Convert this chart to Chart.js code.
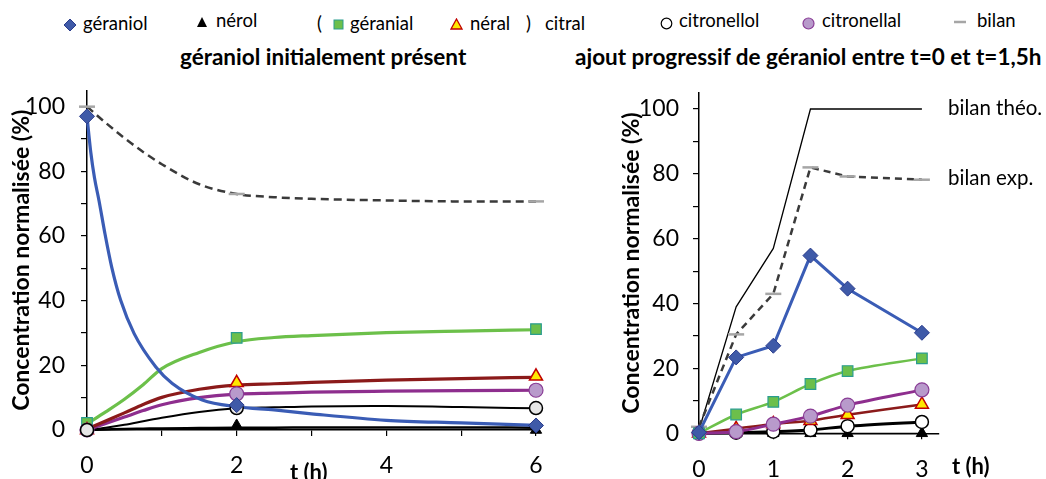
<!DOCTYPE html>
<html>
<head>
<meta charset="utf-8">
<script src="https://cdn.jsdelivr.net/npm/chart.js@4.4.1/dist/chart.umd.min.js"></script>
<style>
  body { margin: 0; width: 1046px; height: 479px; background: #fff; position: relative; overflow: hidden;
         font-family: Lato, "Open Sans", sans-serif; color: #000; }
  .t { position: absolute; white-space: nowrap; line-height: 1; }
  .lg { font-size: 18.5px; }
  .an { font-size: 20.5px; }
  .ti { font-size: 22.5px; font-weight: bold; }
  .ax { font-size: 22px; font-weight: bold; }
  .mk { position: absolute; }
  canvas { position: absolute; top: 80px; }
  #left { left: 0; }
  #right { left: 590px; }
</style>
</head>
<body>
<!-- légende -->
<svg class="mk" style="left:63px;top:18px" width="14" height="14"><polygon points="7,1 13,7 7,13 1,7" fill="#3F5AA8" stroke="#2A3C8C"/></svg>
<div class="t lg" style="left:83px;top:14px">géraniol</div>
<svg class="mk" style="left:196px;top:16px" width="12" height="12"><polygon points="6,1 11,11 1,11" fill="#000"/></svg>
<div class="t lg" style="left:216px;top:11px">nérol</div>
<div class="t lg" style="left:317px;top:14px">(</div>
<svg class="mk" style="left:333px;top:19px" width="11" height="11"><rect x="1" y="1" width="9" height="9" fill="#6CBF4B" stroke="#2A9D8F"/></svg>
<div class="t lg" style="left:350px;top:14px">géranial</div>
<svg class="mk" style="left:450px;top:18px" width="13" height="12"><polygon points="6.5,1 12,11 1,11" fill="#FFE800" stroke="#C00000" stroke-width="1.3"/></svg>
<div class="t lg" style="left:470px;top:14px">néral</div>
<div class="t lg" style="left:526px;top:14px">)</div>
<div class="t lg" style="left:545px;top:14px">citral</div>
<svg class="mk" style="left:660px;top:17px" width="13" height="13"><circle cx="6.5" cy="6.5" r="5.3" fill="#fff" stroke="#000" stroke-width="1.2"/></svg>
<div class="t lg" style="left:679px;top:11px">citronellol</div>
<svg class="mk" style="left:802px;top:17px" width="13" height="13"><circle cx="6.5" cy="6.5" r="5.5" fill="#B89ACB" stroke="#8A3D96" stroke-width="1.2"/></svg>
<div class="t lg" style="left:822px;top:11px">citronellal</div>
<svg class="mk" style="left:953px;top:17px" width="14" height="10"><line x1="1" y1="5" x2="13" y2="5" stroke="#A6A6A6" stroke-width="2.5"/></svg>
<div class="t lg" style="left:977px;top:11px">bilan</div>

<div class="t ti" style="left:180px;top:46px">géraniol initialement présent</div>
<div class="t ti" style="left:575px;top:46px">ajout progressif de géraniol entre t=0 et t=1,5h</div>

<canvas id="left" width="560" height="399"></canvas>
<canvas id="right" width="456" height="399"></canvas>

<div class="t ax" style="left:290px;top:461px">t (h)</div>
<div class="t ax" style="left:952px;top:455px">t (h)</div>
<div class="t an" style="left:948px;top:97px">bilan théo.</div>
<div class="t an" style="left:948px;top:167px">bilan exp.</div>

<script>
// ---- géraniol initialement présent (points mesurés) ----
const tLeft = [0, 2, 6];
const geraniolLeft = [97, 7.7, 1.4];
const nerolLeft = [0, 1.4, 0];
const geranialLeft = [2.2, 28.5, 31.2];
const neralLeft = [0, 14.6, 16.6];
const citronellolLeft = [0, 6.8, 6.8];
const citronellalLeft = [0, 11.2, 12.3];
const bilanLeft = [100, 73, 70.7];

// courbes du modèle
const tFitGeraniol = [0, 0.05, 0.1, 0.16, 0.24, 0.33, 0.45, 0.63, 0.92, 1.14, 1.54, 2, 2.5, 3, 4, 5, 6];
const geraniolFit = [97, 86, 78, 71, 60.7, 50.4, 40.1, 29.8, 19.5, 14.4, 9.3, 7.2, 6.2, 5.0, 3.0, 2.2, 1.4];
const tFit = [0, 0.25, 0.5, 0.75, 1, 1.5, 2, 2.5, 3, 4, 5, 6];
const nerolFit = [0, 0.15, 0.3, 0.4, 0.5, 0.6, 0.7, 0.7, 0.8, 0.8, 0.8, 0.7];
const geranialFit = [1.9, 5.6, 9.5, 14, 19, 24, 27.3, 28.6, 29.2, 30.1, 30.6, 31];
const neralFit = [0.3, 2.8, 5.3, 7.9, 10.1, 12.6, 13.9, 14.3, 14.7, 15.4, 15.9, 16.3];
const citronellalFit = [0, 2, 4.0, 6.0, 7.8, 10.0, 11.1, 11.4, 11.7, 12.0, 12.2, 12.3];
const citronellolFit = [0, 0.7, 1.6, 2.7, 3.8, 5.6, 6.7, 7.0, 7.3, 7.4, 7.1, 6.7];
const bilanFit = [100, 95, 90.3, 86, 82.2, 76, 73, 72, 71.5, 71, 70.7, 70.7];

// ---- ajout progressif de géraniol ----
const tRight = [0, 0.5, 1, 1.5, 2, 3];
const geraniolRight = [0.3, 23.4, 27, 54.8, 44.6, 31];
const nerolRight = [0, 0, 0, 0, 0, 0];
const geranialRight = [0, 5.8, 9.7, 15.2, 19.2, 23.1];
const neralRight = [0, 1.4, 2.9, 3.9, 5.7, 8.9];
const citronellolRight = [0, 0.2, 0.5, 1.0, 2.2, 3.5];
const citronellalRight = [0, 0.5, 2.8, 5.3, 8.7, 13.4];
const bilanTheo = [1, 39, 57, 100, 100, 100];
const bilanExp = [2, 30.5, 43, 82, 79.2, 78.2];

const yTicks = [0, 10, 20, 30, 40, 50, 60, 70, 80, 90, 100];
const xTicksLeft = [0, 1, 2, 3, 4, 5, 6];
const xLabelsLeft = [0, 2, 4, 6];
const xTicksRight = [0, 1, 2, 3];

const pts = (xs, ys) => xs.map((x, i) => ({ x: x, y: ys[i] }));

const blue = '#3A5CB5', green = '#6CC04A', red = '#8B1A1A', purple = '#8E2E8E';

function marks(xs, ys, style, radius, bg, border, bw) {
  return { data: pts(xs, ys), showLine: false, pointStyle: style, pointRadius: radius,
           pointBackgroundColor: bg, pointBorderColor: border, pointBorderWidth: bw, clip: false };
}
function fit(xs, ys, color, width, dash) {
  return { data: pts(xs, ys), borderColor: color, borderWidth: width, borderDash: dash || [],
           pointRadius: 0, cubicInterpolationMode: 'monotone', clip: false };
}

function noPad(s) {
  s.paddingTop = 0; s.paddingBottom = 0; s.paddingLeft = 0; s.paddingRight = 0;
}

function axes(xmax, xticks, xlabels, yWidth, titlePad, xHeight, yPad) {
  const tickFont = { family: 'Lato', size: 23 };
  return {
    x: {
      type: 'linear', min: 0, max: xmax,
      afterBuildTicks: s => { s.ticks = xticks.map(v => ({ value: v })); },
      afterFit: s => { s.height = xHeight; noPad(s); },
      ticks: { color: '#000', font: tickFont, padding: 16, maxRotation: 0,
               callback: v => xlabels.includes(v) ? String(v) : '' },
      grid: { drawOnChartArea: false, tickLength: 6, color: '#000', lineWidth: 1.2 },
      border: { color: '#000', width: 1.5 }
    },
    y: {
      min: 0, max: 105,
      afterBuildTicks: s => { s.ticks = yTicks.map(v => ({ value: v })); },
      afterFit: s => { s.width = yWidth; noPad(s); },
      ticks: { color: '#000', font: tickFont, padding: yPad,
               callback: v => v % 20 === 0 ? String(v) : '' },
      grid: { drawOnChartArea: false, tickLength: 6, color: '#000', lineWidth: 1.2 },
      border: { color: '#000', width: 1.5 },
      title: { display: true, text: 'Concentration normalisée (%)', color: '#000',
               font: { family: 'Lato', size: 23, weight: 'bold' }, padding: { top: titlePad, bottom: 0 } }
    }
  };
}

const baseOptions = {
  responsive: false, animation: false, devicePixelRatio: 1,
  plugins: { legend: { display: false }, tooltip: { enabled: false } }
};

new Chart(document.getElementById('left'), {
  type: 'line',
  data: {
    datasets: [
      marks(tLeft, geraniolLeft, 'rectRot', 7.5, '#3F5AA8', '#2A3C8C', 1),
      marks(tLeft, citronellolLeft, 'circle', 6.5, '#E6E6E6', '#000', 1.5),
      marks(tLeft, citronellalLeft, 'circle', 7, '#B89ACB', '#8A3D96', 1.2),
      marks(tLeft, neralLeft, 'triangle', 7.5, '#FFE800', '#C00000', 1.5),
      marks(tLeft, geranialLeft, 'rect', 7.5, '#6CBF4B', '#2A9D8F', 1.2),
      marks(tLeft, nerolLeft, 'triangle', 6.5, '#000', '#000', 1),
      marks(tLeft, bilanLeft, 'line', 8, '#A6A6A6', '#A6A6A6', 2.5),
      fit(tFitGeraniol, geraniolFit, blue, 3.2),
      fit(tFit, geranialFit, green, 3.2),
      fit(tFit, neralFit, red, 3.2),
      fit(tFit, citronellalFit, purple, 3.2),
      fit(tFit, citronellolFit, '#000', 2),
      fit(tFit, nerolFit, '#000', 2.5),
      fit(tFit, bilanFit, '#3A3A3A', 2.5, [8, 5])
    ]
  },
  options: Object.assign({}, baseOptions, {
    layout: { padding: { top: 10, right: 24, left: 0, bottom: 0 } },
    scales: axes(6, xTicksLeft, xLabelsLeft, 87, 8.2, 49, 16)
  })
});

function serie(ys, color, width, tension, style, radius, bg, border, bw, dash) {
  return { data: pts(tRight, ys), borderColor: color, borderWidth: width, tension: tension,
           borderDash: dash || [], pointStyle: style, pointRadius: radius,
           pointBackgroundColor: bg, pointBorderColor: border, pointBorderWidth: bw, clip: false };
}

new Chart(document.getElementById('right'), {
  type: 'line',
  data: {
    datasets: [
      serie(geraniolRight, blue, 3, 0, 'rectRot', 7.5, '#3F5AA8', '#2A3C8C', 1),
      serie(geranialRight, green, 2.5, 0.3, 'rect', 7.5, '#6CBF4B', '#2A9D8F', 1.2),
      serie(citronellalRight, purple, 3, 0.3, 'circle', 7, '#B89ACB', '#8A3D96', 1.2),
      serie(neralRight, red, 2.5, 0.2, 'triangle', 7.5, '#FFE800', '#C00000', 1.5),
      serie(citronellolRight, '#000', 3, 0.2, 'circle', 6.5, '#fff', '#000', 1.5),
      serie(nerolRight, '#000', 1.2, 0, 'triangle', 6.5, '#000', '#000', 1),
      serie(bilanExp, '#3A3A3A', 2.5, 0, 'line', 8, '#A6A6A6', '#A6A6A6', 2.5, [7, 5]),
      serie(bilanTheo, '#000', 1.3, 0, 'circle', 0, '#000', '#000', 0)
    ]
  },
  options: Object.assign({}, baseOptions, {
    layout: { padding: { top: 12.8, right: 107, left: 0, bottom: 0 } },
    scales: axes(3.23, xTicksRight, xTicksRight, 109, 28.2, 45.7, 14)
  })
});
</script>
</body>
</html>
